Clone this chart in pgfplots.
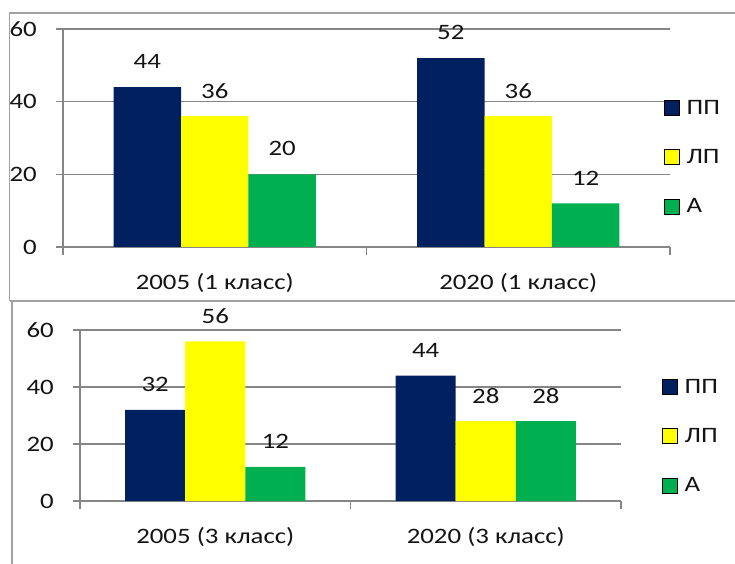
\documentclass[border=0pt]{standalone}
\usepackage{fontspec}
\setmainfont{Carlito}[FakeStretch=1.22]
\usepackage{pgfplots}
\pgfplotsset{compat=1.18}

\definecolor{ppblue}{HTML}{002060}
\definecolor{lpyellow}{HTML}{FFFF00}
\definecolor{agreen}{HTML}{00B050}
\definecolor{gridgray}{HTML}{868686}
\definecolor{framegray}{HTML}{A0A0A0}
\definecolor{txt}{HTML}{141414}

\newcommand{\chartfont}{\fontsize{22bp}{26bp}\selectfont}

\pgfplotsset{
  classchart/.style={
    scale only axis,
    xmin=-0.5, xmax=1.5, ymin=0, ymax=60,
    ytick={0,20,40,60},
    xtick={0,1},
    minor xtick={-0.5,0.5,1.5},
    ybar, bar width=0.2222,
    axis x line*=bottom, axis y line*=left,
    axis line style={gridgray, line width=1.1bp},
    ymajorgrids, grid style={gridgray, line width=1.1bp},
    tick align=outside,
    major tick length=7bp, minor tick length=8bp,
    tick style={gridgray, line width=1.1bp},
    major x tick style={draw=none},
    every tick label/.append style={font=\chartfont, text=txt},
    yticklabel style={anchor=east, inner sep=0pt, xshift=-19bp},
    xticklabel style={anchor=center, inner sep=0pt, yshift=-28.5bp},
    /pgf/number format/assume math mode=true,
    nodes near coords,
    every node near coord/.append style={font=\chartfont, text=txt,
      anchor=center, inner sep=0pt, yshift=25.5bp},
    legend image code/.code={\fill[##1] (0bp,-7.5bp) rectangle (15bp,7.5bp);},
    legend cell align=left,
    legend style={draw=none, fill=none, inner sep=0pt, anchor=north west,
      row sep=33.5bp, column sep=7bp,
      nodes={inner sep=0pt, anchor=west, font=\chartfont, text=txt}},
    clip=false,
  },
}

\begin{document}
\begin{tikzpicture}
\useasboundingbox (0bp,0bp) rectangle (735bp,564bp);
\fill[white] (0bp,0bp) rectangle (735bp,564bp);

% panel frames
\draw[framegray, line width=1.3bp] (745bp,551bp) -- (9.5bp,551bp) -- (9.5bp,263bp);
\draw[framegray, line width=1.3bp] (9.5bp,263bp) -- (745bp,263bp);
\draw[framegray, line width=1.3bp] (12bp,263bp) -- (12bp,-5bp);

% 1st grade
\begin{axis}[classchart,
  at={(63bp,317bp)}, anchor=south west,
  width=607bp, height=218bp,
  xticklabels={2005 (1 класс), 2020 (1 класс)},
  legend style={at={(0.9901,0.6743)}},
]
\addplot[fill=ppblue, draw=none, bar shift=-0.2222, forget plot] coordinates {(0,44) (1,52)};
\addplot[fill=lpyellow, draw=none, bar shift=0, forget plot] coordinates {(0,36) (1,36)};
\addplot[fill=agreen, draw=none, bar shift=0.2222, forget plot] coordinates {(0,20) (1,12)};
\addlegendimage{fill=ppblue}
\addlegendentry{ПП}
\addlegendimage{fill=lpyellow}
\addlegendentry{ЛП}
\addlegendimage{fill=agreen}
\addlegendentry{А}
\end{axis}

% 3rd grade
\begin{axis}[classchart,
  at={(80bp,63bp)}, anchor=south west,
  width=541bp, height=171bp,
  xticklabels={2005 (3 класс), 2020 (3 класс)},
  legend style={at={(1.0758,0.7135)}},
]
\addplot[fill=ppblue, draw=none, bar shift=-0.2222, forget plot] coordinates {(0,32) (1,44)};
\addplot[fill=lpyellow, draw=none, bar shift=0, forget plot] coordinates {(0,56) (1,28)};
\addplot[fill=agreen, draw=none, bar shift=0.2222, forget plot] coordinates {(0,12) (1,28)};
\addlegendimage{fill=ppblue}
\addlegendentry{ПП}
\addlegendimage{fill=lpyellow}
\addlegendentry{ЛП}
\addlegendimage{fill=agreen}
\addlegendentry{А}
\end{axis}
\end{tikzpicture}
\end{document}
